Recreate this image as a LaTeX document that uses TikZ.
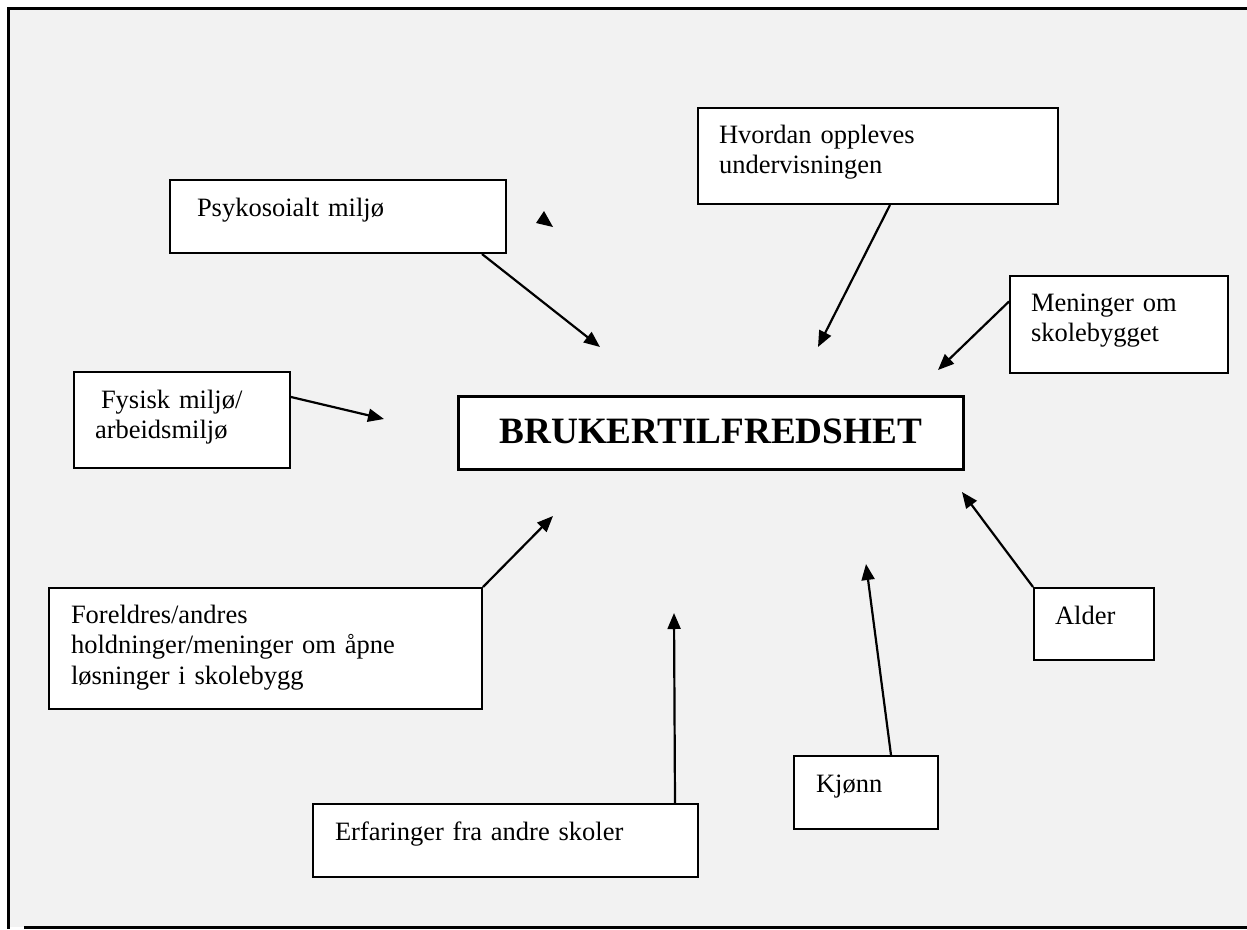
\documentclass[tikz,border=0pt]{standalone}
\usepackage{fontspec}
\setmainfont{Liberation Serif}
\usepackage{tikz}
\usetikzlibrary{arrows.meta}
\definecolor{paper}{HTML}{F2F2F2}
\tikzset{%
  tipF/.tip={Triangle[length=16pt,width=13pt]},
  factorbox/.style={draw=black, fill=white, line width=2pt, anchor=north west,
    align=left, inner ysep=0pt, font=\fontsize{26.5pt}{30.5pt}\selectfont},
  influence/.style={draw=black, line width=2.2pt, -tipF}
}

\begin{document}
\begin{tikzpicture}[x=1pt,y=-1pt]
\useasboundingbox (0,0) rectangle (1247,929);
\fill[white] (0,0) rectangle (1247,929);
\fill[paper] (8,8) rectangle (1247,927);
\draw[line width=3pt] (1247,8) -- (8,8) -- (8,929);
\draw[line width=3pt] (24,927) -- (1247,927);
\node[factorbox, inner xsep=27pt, text width=282pt, text height=36pt, text depth=37pt] (psyko) at (169,179) {Psykosoialt miljø};
\node[factorbox, inner xsep=21pt, text width=318pt, text height=35pt, text depth=61pt] (hvordan) at (697,107) {Hvordan oppleves\\undervisningen};
\node[factorbox, inner xsep=21pt, text width=176pt, text height=35pt, text depth=62pt] (meninger) at (1009,275) {Meninger om\\skolebygget};
\node[factorbox, inner xsep=21pt, text width=174pt, text height=36pt, text depth=60pt] (fysisk) at (73,371) {\hspace*{6pt}Fysisk miljø/\\arbeidsmiljø};
\node[factorbox, align=center, inner xsep=10pt, text width=485pt, text height=47pt, text depth=26pt,
  line width=2.5pt, font=\bfseries\fontsize{37.2pt}{44pt}\selectfont] (bruker) at (457,395) {BRUKERTILFREDSHET};
\node[factorbox, inner xsep=22pt, text width=389pt, text height=35pt, text depth=86pt] (foreldres) at (48,587) {Foreldres/andres\\holdninger/meninger om åpne\\løsninger i skolebygg};
\node[factorbox, inner xsep=21pt, text width=78pt, text height=36pt, text depth=36pt] (alder) at (1033,587) {Alder};
\node[factorbox, inner xsep=22pt, text width=100pt, text height=36pt, text depth=37pt] (kjonn) at (793,755) {Kjønn};
\node[factorbox, inner xsep=22pt, text width=341pt, text height=36pt, text depth=37pt] (erfaringer) at (312,803) {Erfaringer fra andre skoler};
\coordinate (tpsyko) at (600,347);
\coordinate (thvordan) at (818,347);
\coordinate (tmeninger) at (938,370);
\coordinate (tfysisk) at (384,419);
\coordinate (tforeldres) at (553,516);
\coordinate (terfaringer) at (674,613);
\coordinate (tkjonn) at (866,564);
\coordinate (talder) at (962,492);
\draw[influence] ([xshift=-25pt]psyko.south east) -- (tpsyko);
\draw[influence] ([xshift=12pt]hvordan.south) -- (thvordan);
\draw[influence] ([yshift=23pt]meninger.west) -- (tmeninger);
\draw[influence] ([yshift=23pt]fysisk.east) -- (tfysisk);
\draw[influence] (foreldres.north east) -- (tforeldres);
\draw[influence] ([xshift=-24pt]erfaringer.north east) -- (terfaringer);
\draw[influence] ([xshift=-48pt]kjonn.north east) -- (tkjonn);
\draw[influence] (alder.north west) -- (talder);
\fill (544,211) -- (536,223) -- (553,227) -- cycle;
\end{tikzpicture}
\end{document}
